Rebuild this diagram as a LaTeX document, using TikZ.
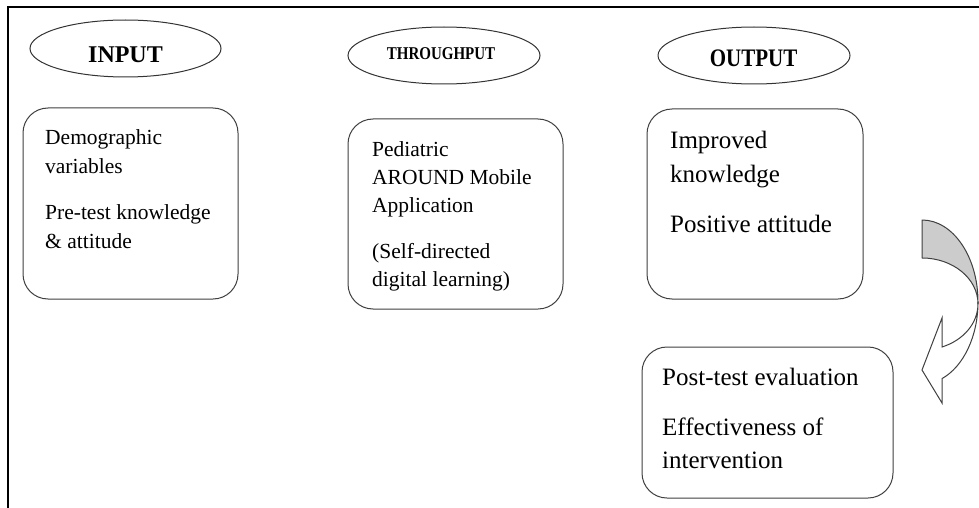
\documentclass[tikz,border=0pt]{standalone}
\usepackage{fontspec}
\usepackage{graphicx}
\setmainfont{Liberation Serif}
\usetikzlibrary{shapes.geometric}
\tikzset{
  frameline/.style={line width=2pt, black},
  hdrell/.style={draw=black!80, line width=1pt, ellipse, minimum width=191pt, minimum height=57pt, inner sep=0pt},
  roundbox/.style={draw=black!75, line width=1pt, rounded corners=25pt, rectangle, inner sep=0pt},
  hdrtxt/.style={anchor=base, inner sep=0pt, font=\bfseries},
  smalltxt/.style={anchor=base west, inner sep=0pt, font=\fontsize{21.5}{26}\selectfont},
  bigtxt/.style={anchor=base west, inner sep=0pt, font=\fontsize{25}{30}\selectfont},
  backband/.style={draw=black!75, line width=1pt, fill=black!20, line join=round},
  frontband/.style={draw=black!75, line width=1pt, fill=white, line join=miter}
}
\begin{document}
\begin{tikzpicture}[x=1pt, y=-1pt]
\useasboundingbox (0,0) rectangle (979,508);
\fill[white] (0,0) rectangle (979,508);
% frame
\coordinate (fr1) at (979,7);
\coordinate (fr2) at (8,7);
\coordinate (fr3) at (8,508);
\draw[frameline] (fr1) -- (fr2) -- (fr3);

% header ellipses
\node[hdrell] (inell) at (125.5,48.5) {};
\node[hdrell, minimum width=192pt] (thell) at (444,55.5) {};
\node[hdrell, minimum width=192pt] (outell) at (754,55.5) {};
\node[hdrtxt, font=\bfseries\fontsize{24}{28}\selectfont] (inlbl) at (125.5,63) {INPUT};
\node[hdrtxt, font=\bfseries\fontsize{15}{18}\selectfont] (thlbl) at (441,60) {\scalebox{1}[1.2]{THROUGHPUT}};
\node[hdrtxt, font=\bfseries\fontsize{21}{25}\selectfont] (outlbl) at (753.5,67) {\scalebox{1}[1.2]{OUTPUT}};

% boxes
\node[roundbox, minimum width=215pt, minimum height=191pt] (inbox) at (130.5,203.5) {};
\node[roundbox, minimum width=215pt, minimum height=190pt] (thbox) at (455.5,214) {};
\node[roundbox, minimum width=216pt, minimum height=190pt] (outbox) at (755,204) {};
\node[roundbox, minimum width=251pt, minimum height=151pt] (postbox) at (767.5,422.5) {};

% input text
\node[smalltxt] (in1) at (45,144) {Demographic};
\node[smalltxt] (in2) at (45,173) {variables};
\node[smalltxt] (in3) at (45,219) {Pre-test knowledge};
\node[smalltxt] (in4) at (45,248) {\& attitude};

% throughput text
\node[smalltxt] (th1) at (372,156) {Pediatric};
\node[smalltxt] (th2) at (372,184) {AROUND Mobile};
\node[smalltxt] (th3) at (372,212) {Application};
\node[smalltxt] (th4) at (372,258) {(Self-directed};
\node[smalltxt] (th5) at (372,286) {digital learning)};

% output text
\node[bigtxt] (out1) at (670,148) {Improved};
\node[bigtxt] (out2) at (670,182) {knowledge};
\node[bigtxt] (out3) at (670,232) {Positive attitude};

% post-test text
\node[bigtxt] (post1) at (662,385) {Post-test evaluation};
\node[bigtxt] (post2) at (662,435) {Effectiveness of};
\node[bigtxt] (post3) at (662,468) {intervention};

% curved arrow (back part, shaded)
\draw[backband] (922,220) arc[start angle=-90, end angle=0, x radius=56, y radius=82]
  -- (978,304) arc[start angle=0, end angle=-90, x radius=56, y radius=46] -- cycle;
% curved arrow (front part with head)
\draw[frontband] (978,302) arc[start angle=0, end angle=69, x radius=56, y radius=82]
  -- (942,403) -- (922,370) -- (942,318) -- (942,347)
  arc[start angle=69, end angle=0, x radius=56, y radius=46] -- cycle;
\end{tikzpicture}
\end{document}
